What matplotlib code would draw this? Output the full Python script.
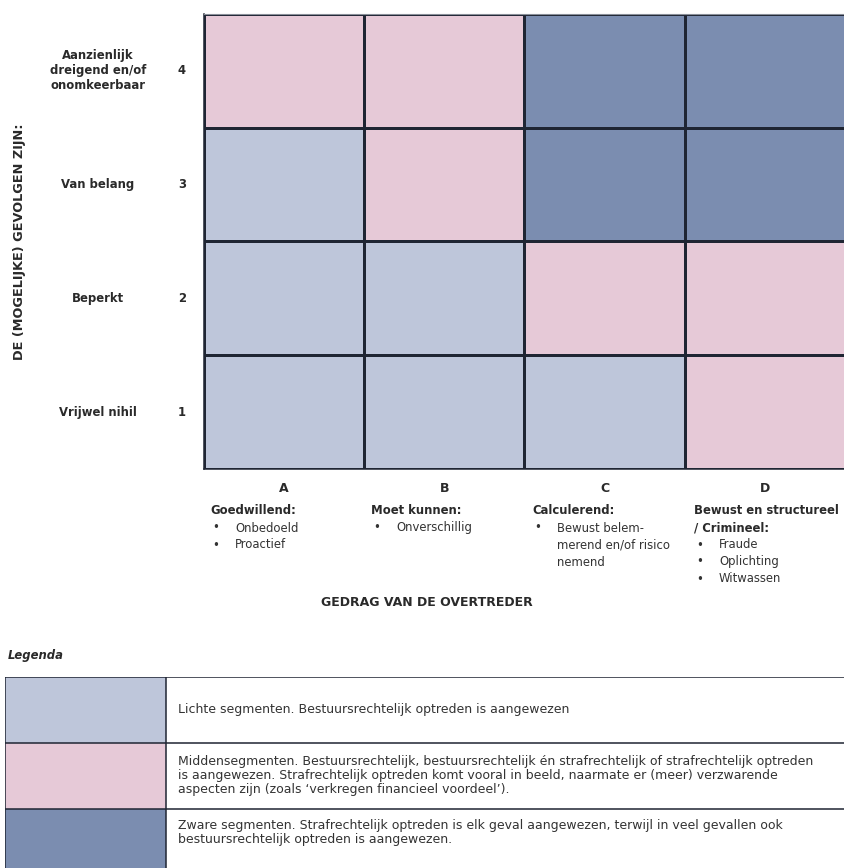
import matplotlib
matplotlib.use('Agg')
import matplotlib.pyplot as plt
from matplotlib.colors import ListedColormap
import numpy as np

plt.rcParams['font.family'] = ['DejaVu Sans']

# data
col_letters = ['A', 'B', 'C', 'D']
row_numbers = ['1', '2', '3', '4']
row_labels = ['Vrijwel nihil', 'Beperkt', 'Van belang',
              'Aanzienlijk\ndreigend en/of\nonomkeerbaar']
# 0 = licht, 1 = midden, 2 = zwaar ; rows from 1 (bottom) to 4 (top)
segments = [[0, 0, 0, 1],
            [0, 0, 1, 1],
            [0, 1, 2, 2],
            [1, 1, 2, 2]]
col_heads = ['Goedwillend:', 'Moet kunnen:', 'Calculerend:',
             'Bewust en structureel\n/ Crimineel:']
col_bullets = [['Onbedoeld', 'Proactief'],
               ['Onverschillig'],
               ['Bewust belem-\nmerend en/of risico\nnemend'],
               ['Fraude', 'Oplichting', 'Witwassen']]
x_title = 'GEDRAG VAN DE OVERTREDER'
y_title = 'DE (MOGELIJKE) GEVOLGEN ZIJN:'
legend_title = 'Legenda'
legend_texts = ['Lichte segmenten. Bestuursrechtelijk optreden is aangewezen',
                'Middensegmenten. Bestuursrechtelijk, bestuursrechtelijk én strafrechtelijk of strafrechtelijk optreden\n'
                'is aangewezen. Strafrechtelijk optreden komt vooral in beeld, naarmate er (meer) verzwarende\n'
                'aspecten zijn (zoals \u2018verkregen financieel voordeel\u2019).',
                'Zware segmenten. Strafrechtelijk optreden is elk geval aangewezen, terwijl in veel gevallen ook\n'
                'bestuursrechtelijk optreden is aangewezen.']

colors = ['#bec6da', '#e6c9d7', '#7b8db0']
line_c = '#1f2533'
txt_c = '#2a2a2a'

W, H = 845, 868
fig = plt.figure(figsize=(W / 100, H / 100), dpi=100)


def px(x, y):
    return x / W, 1 - y / H


def put_lines(x, y0, dy, text, **kw):
    # one text per line so the spacing follows the reference
    for k, s in enumerate(text.split('\n')):
        fig.text(*px(x, y0 + k * dy), s, va='center', **kw)
    return y0 + len(text.split('\n')) * dy


# matrix
gl, gr, gt, gb = 204, 845, 14, 469
ax = fig.add_axes([gl / W, 1 - gb / H, (gr - gl) / W, (gb - gt) / H])
ax.pcolormesh(np.arange(5), np.arange(5), np.array(segments),
              cmap=ListedColormap(colors), vmin=-0.5, vmax=2.5,
              edgecolors=line_c, linewidth=0.8)
ax.set_xlim(0, 4)
ax.set_ylim(0, 4)
ax.set_xticks([])
ax.set_yticks([])
for s in ['left', 'bottom']:
    ax.spines[s].set_color(line_c)
    ax.spines[s].set_linewidth(1.1)
ax.spines['right'].set_visible(False)
ax.spines['top'].set_color('#8a8f99')
ax.spines['top'].set_linewidth(0.8)

fs = 9.0
cell_w = (gr - gl) / 4
cell_h = (gb - gt) / 4
for i in range(4):
    yc = gb - (i + 0.5) * cell_h
    n = row_labels[i].count('\n')
    put_lines(98, yc - n * 15 / 2, 15, row_labels[i], ha='center',
              fontsize=fs - 0.6, fontweight='bold', color=txt_c)
    fig.text(*px(182, yc), row_numbers[i], ha='center', va='center',
             fontsize=fs - 0.6, fontweight='bold', color=txt_c)

fig.text(*px(20, 242), y_title, rotation=90, ha='center', va='center',
         fontsize=fs + 0.3, fontweight='bold', color=txt_c)

head_x = [210, 371, 532, 694]
dy = 17
for j in range(4):
    xc = gl + (j + 0.5) * cell_w
    fig.text(*px(xc, 488), col_letters[j], ha='center', va='center',
             fontsize=fs, fontweight='bold', color=txt_c)
    y0 = put_lines(head_x[j], 511, dy, col_heads[j], ha='left',
                   fontsize=fs - 0.6, fontweight='bold', color=txt_c)
    for b in col_bullets[j]:
        fig.text(*px(head_x[j] + 2, y0), '\u2022', ha='left', va='center',
                 fontsize=fs - 0.6, color='#333333')
        y0 = put_lines(head_x[j] + 25, y0, dy, b, ha='left',
                       fontsize=fs - 0.6, color='#333333')

fig.text(*px(427, 603), x_title, ha='center', va='center',
         fontsize=fs, fontweight='bold', color=txt_c)

# legend
fig.text(*px(8, 655), legend_title, ha='left', va='center',
         fontsize=fs - 0.6, fontweight='bold', fontstyle='italic', color=txt_c)

lt = 677
lax = fig.add_axes([5 / W, 0, (W - 5) / W, (H - lt) / H])
lax.set_xlim(0, W - 5)
lax.set_ylim(H - lt, 0)
lax.axis('off')
row_h = 66
sw_w = 161
lax.barh(np.arange(3) * row_h + row_h / 2, [sw_w] * 3, height=row_h,
         left=0, color=colors, edgecolor='none')
for k in range(4):
    lax.axhline(k * row_h, color=line_c, linewidth=1.1)
lax.axvline(0, color=line_c, linewidth=1.1)
lax.axvline(sw_w, color=line_c, linewidth=1.1)
first_line = [33, 18, 17]
for k, t in enumerate(legend_texts):
    put_lines(5 + sw_w + 12, lt + k * row_h + first_line[k], 14, t,
              ha='left', fontsize=fs, color='#333333')

fig.savefig('out.png', dpi=100)
